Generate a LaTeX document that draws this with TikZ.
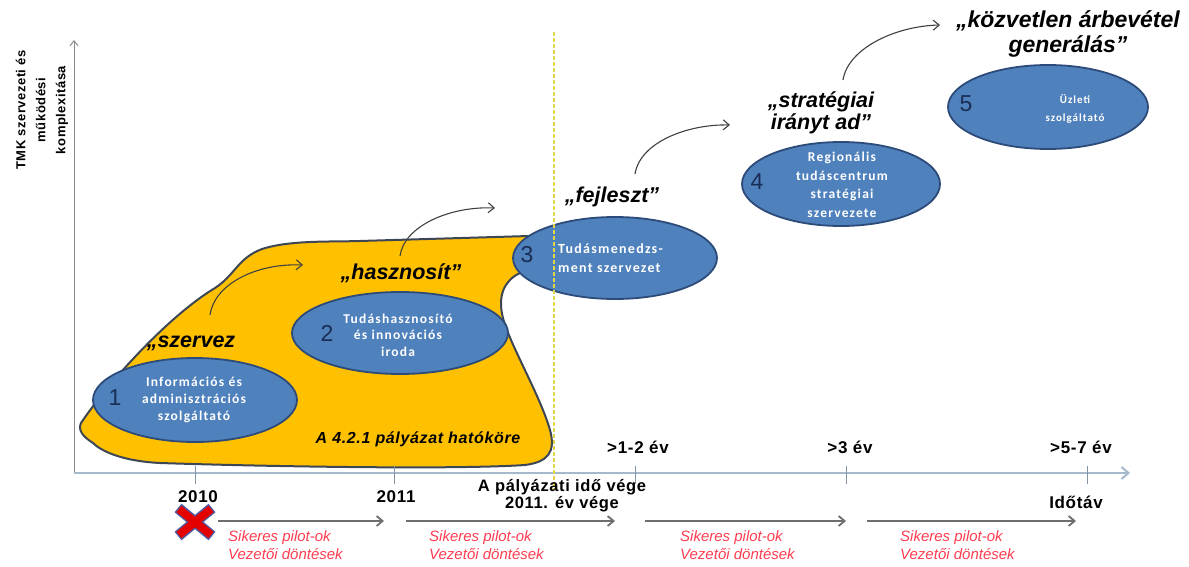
\documentclass[tikz,border=0pt]{standalone}
\usepackage{fontspec}
\setmainfont{Liberation Sans}
\newfontfamily\ellfont[LetterSpace=9]{Carlito}
\newfontfamily\labfont[LetterSpace=4]{Liberation Sans}
\usetikzlibrary{arrows.meta,shapes.geometric}
\definecolor{orangefill}{RGB}{255,192,0}
\definecolor{orangeedge}{RGB}{60,70,85}
\definecolor{ellfill}{RGB}{79,129,189}
\definecolor{elledge}{RGB}{45,75,120}
\definecolor{numcol}{RGB}{25,45,85}
\definecolor{axiscol}{RGB}{165,185,205}
\definecolor{redtxt}{RGB}{255,60,80}
\definecolor{dashcol}{RGB}{225,215,70}
\definecolor{arrgray}{RGB}{110,110,110}
\definecolor{xedge}{RGB}{80,90,160}
\begin{document}
\begin{tikzpicture}[x=1pt,y=-1pt,
  ell/.style={ellipse, draw=elledge, line width=1.8pt, fill=ellfill, inner sep=0pt},
  etxt/.style={font=\ellfont\bfseries\fontsize{13.5}{17}\selectfont, text=white, align=center, inner sep=0pt},
  num/.style={font=\fontsize{23}{23}\selectfont, text=numcol, inner sep=0pt},
  phase/.style={font=\bfseries\itshape\fontsize{21.5}{22}\selectfont, align=center, inner sep=0pt},
  curv/.style={draw=black!75, line width=1.1pt, -{Straight Barb[length=6pt,width=10pt]}},
  tl/.style={font=\labfont\bfseries\fontsize{17}{17}\selectfont, inner sep=0pt, align=center},
  redl/.style={font=\itshape\fontsize{15}{18}\selectfont, text=redtxt, align=left, anchor=north west, inner sep=0pt},
  tarr/.style={draw=arrgray, line width=1.8pt, -{Straight Barb[length=6pt,width=10pt]}},
  tick/.style={draw=axiscol!80!black, line width=1pt}
]
\useasboundingbox (0,0) rectangle (1189,567);

% scope area
\draw[fill=orangefill, draw=orangeedge, line width=2pt]
  (81,423) .. controls (110,380) and (170,315) .. (215,288)
  .. controls (235,275) and (238,258) .. (262,249)
  .. controls (290,240) and (330,242) .. (360,241)
  -- (529,236) -- (560,250) -- (520,273)
  .. controls (505,280) and (497,295) .. (503,318)
  .. controls (510,345) and (540,395) .. (550,430)
  .. controls (556,452) and (548,462) .. (525,465)
  .. controls (450,470) and (250,466) .. (160,463)
  .. controls (120,461) and (100,450) .. (93,443)
  .. controls (82,436) and (78,430) .. (81,423) -- cycle;

% axes
\coordinate (O) at (74,473);
\coordinate (ytop) at (74,40);
\coordinate (xend) at (1130,473);
\draw[draw=arrgray!80, line width=1pt, -{Straight Barb[length=5pt,width=8pt]}] (O) -- (ytop);
\draw[draw=axiscol, line width=2pt, -{Straight Barb[length=7pt,width=12pt]}] (O) -- (xend);
\foreach \x in {195,394,635,846,1087} \draw[tick] (\x,466) -- (\x,484);

\node[rotate=90, align=center, font=\labfont\bfseries\fontsize{13}{20}\selectfont, inner sep=0pt] (ylab) at (42,110) {TMK szervezeti és\\működési\\komplexitása};

% ellipses
\node[ell, minimum width=204pt, minimum height=84pt] (e1) at (195,400) {};
\node[ell, minimum width=216pt, minimum height=82pt] (e2) at (400,333) {};
\node[ell, minimum width=204pt, minimum height=82pt] (e3) at (615,258) {};
\node[ell, minimum width=198pt, minimum height=84pt] (e4) at (841,184) {};
\node[ell, minimum width=200pt, minimum height=84pt] (e5) at (1048,107) {};

% dashed time line
\coordinate (dtop) at (554,32);
\coordinate (dbot) at (554,490);
\draw[draw=dashcol, line width=1.6pt, dash pattern=on 4pt off 2pt] (dtop) -- (dbot);

\node[etxt] (t1) at (194,400) {Információs és\\adminisztrációs\\szolgáltató};
\node[etxt, font=\ellfont\bfseries\fontsize{13.5}{16.5}\selectfont] (t2) at (398,335) {Tudáshasznosító\\és innovációs\\iroda};
\node[etxt, align=left, anchor=west, font=\ellfont\bfseries\fontsize{14}{19}\selectfont] (t3) at (558,258) {Tudásmenedzs-\\ment szervezet};
\node[etxt, font=\ellfont\bfseries\fontsize{13.5}{18.5}\selectfont] (t4) at (842,185) {Regionális\\tudáscentrum\\stratégiai\\szervezete};
\node[etxt, font=\ellfont\bfseries\fontsize{11}{18}\selectfont] (t5) at (1075,109) {Üzleti\\szolgáltató};

\node[num] (n1) at (115,398) {1};
\node[num] (n2) at (327,333) {2};
\node[num] (n3) at (527,255) {3};
\node[num] (n4) at (757,182) {4};
\node[num] (n5) at (966,104) {5};

\node[font=\labfont\bfseries\itshape\fontsize{16}{16}\selectfont, inner sep=0pt] (scope) at (418,439) {A 4.2.1 pályázat hatóköre};

% phase labels
\node[phase] (p1) at (191,343) {„szervez};
\node[phase] (p2) at (401,273) {„hasznosít”};
\node[phase] (p3) at (612,197) {„fejleszt”};
\node[phase] (p4) at (821,113) {„stratégiai\\irányt ad”};
\node[phase, font=\bfseries\itshape\fontsize{23}{25}\selectfont] (p5) at (1068,34) {„közvetlen árbevétel\\generálás”};

% curved arrows
\coordinate (c1s) at (210,315); \coordinate (c1e) at (303,265);
\coordinate (c2s) at (400,256); \coordinate (c2e) at (495,208);
\coordinate (c3s) at (635,174); \coordinate (c3e) at (730,125);
\coordinate (c4s) at (843,80);  \coordinate (c4e) at (940,25);
\draw[curv] (c1s) .. controls (214,285) and (255,263) .. (c1e);
\draw[curv] (c2s) .. controls (404,226) and (450,206) .. (c2e);
\draw[curv] (c3s) .. controls (640,142) and (688,124) .. (c3e);
\draw[curv] (c4s) .. controls (848,48) and (896,26) .. (c4e);

% time labels
\node[tl] (y2010) at (198,497) {2010};
\node[tl] (y2011) at (396,497) {2011};
\node[tl, font=\labfont\bfseries\fontsize{16.5}{17}\selectfont] (pend) at (562,496) {A pályázati idő vége\\2011. év vége};
\node[tl] (l12) at (638,447) {>1-2 év};
\node[tl] (l3) at (850,447) {>3 év};
\node[tl] (l57) at (1081,447) {>5-7 év};
\node[tl] (idotav) at (1076,502) {Időtáv};

% bottom arrows
\coordinate (b1s) at (218,521); \coordinate (b1e) at (384,521);
\coordinate (b2s) at (406,521); \coordinate (b2e) at (615,521);
\coordinate (b3s) at (645,521); \coordinate (b3e) at (846,521);
\coordinate (b4s) at (867,521); \coordinate (b4e) at (1076,521);
\draw[tarr] (b1s) -- (b1e);
\draw[tarr] (b2s) -- (b2e);
\draw[tarr] (b3s) -- (b3e);
\draw[tarr] (b4s) -- (b4e);

% red cross
\coordinate (xc) at (195,522);
\draw[xedge, line width=11pt] ([shift={(-17,-14)}]xc) -- ([shift={(17,14)}]xc) ([shift={(-17,14)}]xc) -- ([shift={(17,-14)}]xc);
\draw[red!90!black, line width=8pt] ([shift={(-16,-13)}]xc) -- ([shift={(16,13)}]xc) ([shift={(-16,13)}]xc) -- ([shift={(16,-13)}]xc);

% red texts
\node[redl] (r1) at (228,530) {Sikeres pilot-ok\\Vezetői döntések};
\node[redl] (r2) at (429,530) {Sikeres pilot-ok\\Vezetői döntések};
\node[redl] (r3) at (680,530) {Sikeres pilot-ok\\Vezetői döntések};
\node[redl] (r4) at (900,530) {Sikeres pilot-ok\\Vezetői döntések};
\end{tikzpicture}
\end{document}
